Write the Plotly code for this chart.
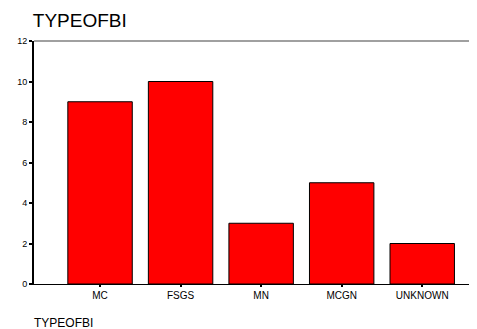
import plotly.graph_objects as go

categories = ["MC", "FSGS", "MN", "MCGN", "UNKNOWN"]
counts = [9, 10, 3, 5, 2]
y_ticks = [0, 2, 4, 6, 8, 10, 12]

fig = go.Figure()
fig.add_trace(go.Bar(
    x=list(range(len(categories))), y=counts,
    width=0.8,
    marker=dict(color="#ff0000", line=dict(color="#000000", width=1)),
))

# page body has an 8px default margin, so the figure is sized/placed to compensate
fig.update_layout(
    width=469, height=321,
    margin=dict(l=26, r=0, t=33, b=45, autoexpand=False),
    paper_bgcolor="white", plot_bgcolor="white",
    showlegend=False,
    font=dict(family="Liberation Sans, Arial, sans-serif", color="black"),
    title=dict(text="TYPEOFBI", x=0.053, xanchor="left", y=0.961, yanchor="middle",
               font=dict(size=19, color="black")),
    bargap=0.2,
)
fig.update_xaxes(
    tickmode="array", tickvals=list(range(len(categories))), ticktext=categories,
    range=[-0.82, 4.68], showgrid=False, zeroline=False, automargin=False,
    showline=True, linecolor="black", linewidth=1,
    ticks="outside", ticklen=2, tickcolor="black", tickwidth=2,
    tickfont=dict(size=10), fixedrange=True,
)
fig.update_yaxes(
    tickmode="array", tickvals=y_ticks, ticktext=[str(v) for v in y_ticks],
    range=[0, 12], showgrid=False, zeroline=False, automargin=False,
    showline=True, linecolor="black", linewidth=2,
    ticks="outside", ticklen=3, tickcolor="black", tickwidth=2,
    tickfont=dict(size=9), fixedrange=True,
)
fig.add_shape(type="line", xref="paper", yref="paper", x0=0, x1=1, y0=1, y1=1,
              line=dict(color="#808080", width=1.5))
fig.add_annotation(text="TYPEOFBI", xref="paper", yref="paper", x=-0.004, y=-0.16,
                   xanchor="left", yanchor="middle", showarrow=False,
                   font=dict(size=12, color="black"))

fig.write_html("out.html")
